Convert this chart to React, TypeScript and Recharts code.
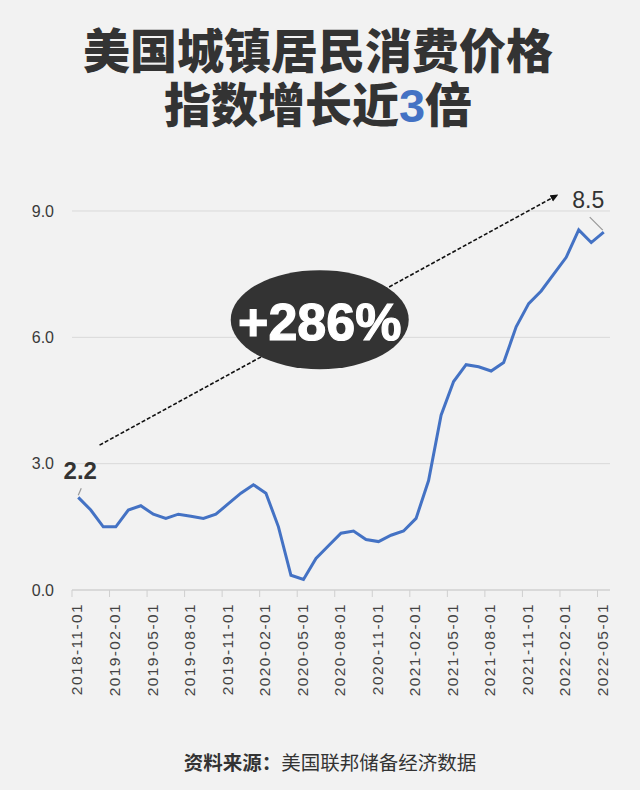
import React from 'react';
import {
  LineChart, Line, XAxis, YAxis, CartesianGrid, ReferenceLine, ReferenceDot
} from 'recharts';

// 月份（2018-11 ～ 2022-05）
const months = [
  '2018-11-01', '2018-12-01', '2019-01-01', '2019-02-01', '2019-03-01', '2019-04-01',
  '2019-05-01', '2019-06-01', '2019-07-01', '2019-08-01', '2019-09-01', '2019-10-01',
  '2019-11-01', '2019-12-01', '2020-01-01', '2020-02-01', '2020-03-01', '2020-04-01',
  '2020-05-01', '2020-06-01', '2020-07-01', '2020-08-01', '2020-09-01', '2020-10-01',
  '2020-11-01', '2020-12-01', '2021-01-01', '2021-02-01', '2021-03-01', '2021-04-01',
  '2021-05-01', '2021-06-01', '2021-07-01', '2021-08-01', '2021-09-01', '2021-10-01',
  '2021-11-01', '2021-12-01', '2022-01-01', '2022-02-01', '2022-03-01', '2022-04-01',
  '2022-05-01',
];

// CPI 同比（%）
const cpiValues = [
  2.2, 1.9, 1.5, 1.5, 1.9, 2.0, 1.8, 1.7, 1.8, 1.75, 1.7, 1.8,
  2.05, 2.3, 2.5, 2.3, 1.5, 0.35, 0.25, 0.75, 1.05, 1.35, 1.4, 1.2,
  1.15, 1.3, 1.4, 1.7, 2.6, 4.15, 4.95, 5.35, 5.3, 5.2, 5.4, 6.25,
  6.8, 7.1, 7.5, 7.9, 8.55, 8.25, 8.5,
];

const tickLabels = [
  '2018-11-01', '2019-02-01', '2019-05-01', '2019-08-01', '2019-11-01',
  '2020-02-01', '2020-05-01', '2020-08-01', '2020-11-01', '2021-02-01',
  '2021-05-01', '2021-08-01', '2021-11-01', '2022-02-01', '2022-05-01',
];

const yTicks = [0, 3, 6, 9];

// 注释（数据坐标）
const arrowStart = { x: 1.7, y: 3.44 };
const arrowEnd = { x: 38.3, y: 9.38 };
const bubble = { x: 19.3, y: 6.42, text: '+286%' };
const startLabel = '2.2';
const endLabel = '8.5';

const data = months.map((m, i) => ({ i, month: m, cpi: cpiValues[i] }));
// 刻度线在每个月份区间的左边
const tickPos = tickLabels.map(l => months.indexOf(l) - 0.5);

const FONT = '"Liberation Sans", Arial, sans-serif';
const CJK = '"Noto Sans CJK SC", sans-serif';

const MonthTick = (props: any) => {
  const { x, y, payload } = props;
  const label = months[Math.round(payload.value + 0.5)];
  return (
    <g transform={`translate(${x + 5},${y})`}>
      <text
        transform="rotate(-90)"
        textAnchor="end"
        dy="0.35em"
        fontSize={15.5}
        letterSpacing={1.4}
        fill="#444"
        fontFamily={FONT}
      >
        {label}
      </text>
    </g>
  );
};

const ArrowShape = (props: any) => {
  const { x1, y1, x2, y2 } = props;
  return (
    <g>
      <defs>
        <marker id="arrowHead" markerWidth="8" markerHeight="8" refX="7" refY="4" orient="auto" markerUnits="userSpaceOnUse">
          <path d="M0,0.5 L8,4 L0,7.5 Z" fill="#111" />
        </marker>
      </defs>
      <line x1={x1} y1={y1} x2={x2} y2={y2} stroke="#111" strokeWidth={1.6} strokeDasharray="4 2" markerEnd="url(#arrowHead)" />
    </g>
  );
};

const BubbleShape = (props: any) => {
  const { cx, cy } = props;
  return (
    <g>
      <ellipse cx={cx} cy={cy} rx={89} ry={49.5} fill="#333" />
      <text x={cx} y={cy + 20} textAnchor="middle" fill="#fff" fontSize={52} fontWeight={700}
        fontFamily={FONT} stroke="#fff" strokeWidth={1.2}>
        {bubble.text}
      </text>
    </g>
  );
};

const StartShape = (props: any) => {
  const { cx, cy } = props;
  return (
    <g>
      <line x1={cx} y1={cy - 2} x2={cx + 3} y2={cy - 9} stroke="#999" strokeWidth={1.2} />
      <text x={cx + 2} y={cy - 18} textAnchor="middle" fill="#333" fontSize={24} fontWeight={700} fontFamily={FONT}>
        {startLabel}
      </text>
    </g>
  );
};

const EndShape = (props: any) => {
  const { cx, cy } = props;
  return (
    <g>
      <line x1={cx - 1} y1={cy - 2} x2={cx - 14} y2={cy - 15} stroke="#999" strokeWidth={1.2} />
      <text x={cx - 15.5} y={cy - 24.5} textAnchor="middle" fill="#333" fontSize={23} fontFamily={FONT}>
        {endLabel}
      </text>
    </g>
  );
};

const titleLine: React.CSSProperties = {
  position: 'absolute', left: 0, width: 636, textAlign: 'center',
  fontFamily: CJK, fontWeight: 900, fontSize: 47, lineHeight: '47px', color: '#333'
};

const App = () => {
  return (
    <div style={{ position: 'absolute', left: 0, top: 0, width: 640, height: 790, background: '#f2f2f2', overflow: 'hidden' }}>
      <div style={{ ...titleLine, top: 24 }}>美国城镇居民消费价格</div>
      <div style={{ ...titleLine, top: 78 }}>
        指数增长近<span style={{ color: '#4472c4', fontFamily: FONT, fontWeight: 900 }}>3</span>倍
      </div>

      <div style={{ position: 'absolute', left: 0, top: 0 }}>
        <LineChart width={640} height={790} data={data} margin={{ top: 211, right: 30, left: 0, bottom: 0 }}>
          <CartesianGrid horizontal vertical={false} stroke="#d9d9d9" />
          <XAxis
            dataKey="i"
            type="number"
            domain={[-0.5, 42.5]}
            ticks={tickPos}
            interval={0}
            allowDataOverflow
            height={200}
            tickSize={7}
            tickMargin={6}
            tickLine={{ stroke: '#cfcfcf' }}
            axisLine={{ stroke: '#d5d5d5', strokeWidth: 1.5 }}
            tick={<MonthTick />}
          />
          <YAxis
            type="number"
            domain={[0, 9]}
            ticks={yTicks}
            width={72}
            axisLine={false}
            tickLine={false}
            tickMargin={12}
            tickFormatter={(v: number) => v.toFixed(1)}
            tick={{ fontSize: 16, fill: '#3a3a3a', fontFamily: FONT }}
          />
          <ReferenceLine
            segment={[arrowStart, arrowEnd]}
            ifOverflow="visible"
            shape={<ArrowShape />}
          />
          <Line
            type="linear"
            dataKey="cpi"
            stroke="#4472c4"
            strokeWidth={3}
            dot={false}
            activeDot={false}
            isAnimationActive={false}
          />
          <ReferenceDot x={bubble.x} y={bubble.y} ifOverflow="visible" shape={<BubbleShape />} />
          <ReferenceDot x={0} y={cpiValues[0]} ifOverflow="visible" shape={<StartShape />} />
          <ReferenceDot x={42} y={cpiValues[42]} ifOverflow="visible" shape={<EndShape />} />
        </LineChart>
      </div>

      <div style={{
        position: 'absolute', left: 0, top: 749, width: 660, textAlign: 'center',
        fontFamily: CJK, fontSize: 19.5, lineHeight: '26px', color: '#333'
      }}>
        <span style={{ fontWeight: 700 }}>资料来源：</span>美国联邦储备经济数据
      </div>
    </div>
  );
};

export default App;
